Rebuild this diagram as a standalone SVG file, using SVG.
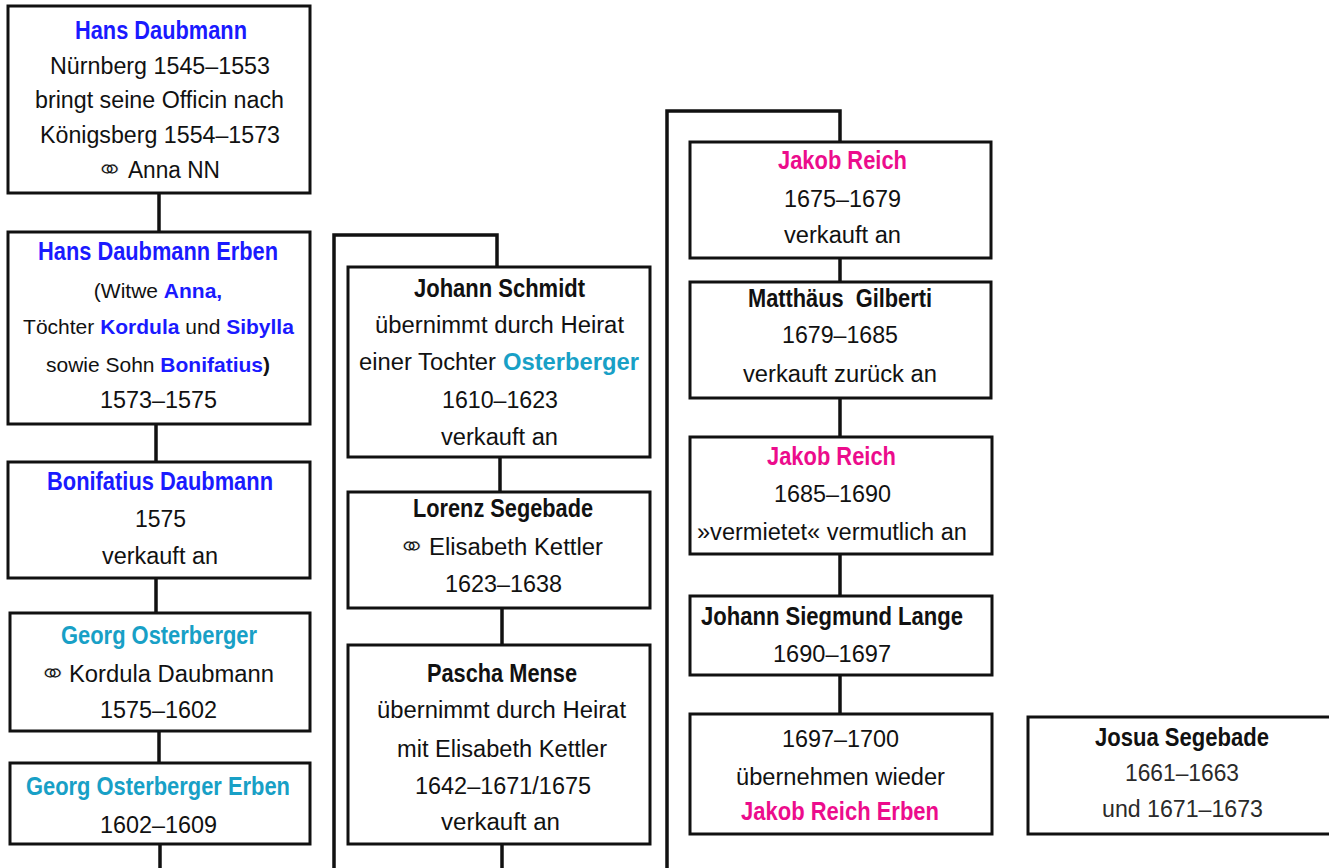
<svg xmlns="http://www.w3.org/2000/svg" width="1329" height="868" viewBox="0 0 1329 868">
<style>
.box{fill:#fff;stroke:#111;stroke-width:3}
.con{fill:none;stroke:#111;stroke-width:3.5}
text{font-family:"Liberation Sans",Arial,sans-serif;font-size:23px;fill:#111;text-anchor:middle;white-space:pre}
.nm{font-family:"Liberation Sans Narrow","Liberation Sans",Arial,sans-serif;font-weight:bold;font-size:25.5px}
.b{font-weight:bold}
.blue{fill:#1a1aff}
.teal{fill:#18a0c6}
.mag{fill:#ec0c8c}
.sm{font-size:21px}
.sym{font-family:"DejaVu Sans",sans-serif;font-size:28px;font-weight:200;stroke:#fff;stroke-width:0.7}
.st{text-anchor:start}
.lt{fill:#2a2a2a}
</style>
<defs>
<text id="marr" class="sym" x="0" y="0">⚭</text>
</defs>
<rect width="1329" height="868" fill="#fff"/>
<g id="connectors">
<path class="con" d="M159,193V232"/>
<path class="con" d="M156,424V462"/>
<path class="con" d="M156,578V613"/>
<path class="con" d="M159,731V763"/>
<path class="con" d="M160,844V868"/>
<path class="con" d="M334,868V235H497V267"/>
<path class="con" d="M500,457V492"/>
<path class="con" d="M502,608V645"/>
<path class="con" d="M502,844V868"/>
<path class="con" d="M667,868V111H840V142"/>
<path class="con" d="M840,258V282"/>
<path class="con" d="M840,398V437"/>
<path class="con" d="M840,554V596"/>
<path class="con" d="M840,675V714"/>
</g>
<g id="n1">
<rect class="box" x="8" y="6" width="302" height="187"/>
<text class="nm blue" x="161" y="39" textLength="172" lengthAdjust="spacingAndGlyphs">Hans Daubmann</text>
<text x="160" y="74" textLength="220" lengthAdjust="spacingAndGlyphs">Nürnberg 1545–1553</text>
<text x="159.5" y="108" textLength="249" lengthAdjust="spacingAndGlyphs">bringt seine Officin nach</text>
<text x="160" y="143" textLength="240" lengthAdjust="spacingAndGlyphs">Königsberg 1554–1573</text>
<use href="#marr" transform="translate(110,179) scale(1.25,1)"/>
<text class="st" x="128" y="178" textLength="92" lengthAdjust="spacingAndGlyphs">Anna NN</text>
</g>
<g id="n2">
<rect class="box" x="8" y="232" width="302" height="192"/>
<text class="nm blue" x="158" y="260" textLength="240" lengthAdjust="spacingAndGlyphs">Hans Daubmann Erben</text>
<text class="sm" x="158" y="298">(Witwe <tspan class="b blue">Anna,</tspan></text>
<text class="sm" x="158.5" y="334">Töchter <tspan class="b blue">Kordula</tspan> und <tspan class="b blue">Sibylla</tspan></text>
<text class="sm" x="158" y="372">sowie Sohn <tspan class="b blue">Bonifatius</tspan><tspan class="b">)</tspan></text>
<text x="158.5" y="408" textLength="117" lengthAdjust="spacingAndGlyphs">1573–1575</text>
</g>
<g id="n3">
<rect class="box" x="8" y="462" width="302" height="116"/>
<text class="nm blue" x="160" y="490" textLength="226" lengthAdjust="spacingAndGlyphs">Bonifatius Daubmann</text>
<text x="160.5" y="527" textLength="51" lengthAdjust="spacingAndGlyphs">1575</text>
<text x="160" y="564" textLength="116" lengthAdjust="spacingAndGlyphs">verkauft an</text>
</g>
<g id="n4">
<rect class="box" x="10" y="613" width="300" height="118"/>
<text class="nm teal" x="159" y="644" textLength="196" lengthAdjust="spacingAndGlyphs">Georg Osterberger</text>
<use href="#marr" transform="translate(53,683) scale(1.25,1)"/>
<text class="st" x="69" y="682" textLength="205" lengthAdjust="spacingAndGlyphs">Kordula Daubmann</text>
<text x="158.5" y="718" textLength="117" lengthAdjust="spacingAndGlyphs">1575–1602</text>
</g>
<g id="n5">
<rect class="box" x="10" y="763" width="300" height="81"/>
<text class="nm teal" x="158" y="795" textLength="264" lengthAdjust="spacingAndGlyphs">Georg Osterberger Erben</text>
<text x="158.5" y="833" textLength="117" lengthAdjust="spacingAndGlyphs">1602–1609</text>
</g>
<g id="n6">
<rect class="box" x="348" y="267" width="302" height="190"/>
<text class="nm" x="499.5" y="297" textLength="171" lengthAdjust="spacingAndGlyphs">Johann Schmidt</text>
<text x="499.5" y="333" textLength="249" lengthAdjust="spacingAndGlyphs">übernimmt durch Heirat</text>
<text class="st" x="359" y="370" font-size="22.5" textLength="137" lengthAdjust="spacingAndGlyphs">einer Tochter</text>
<text class="st b teal" x="503" y="370" font-size="22.5" textLength="136" lengthAdjust="spacingAndGlyphs">Osterberger</text>
<text x="500" y="408" textLength="116" lengthAdjust="spacingAndGlyphs">1610–1623</text>
<text x="499.5" y="445" textLength="117" lengthAdjust="spacingAndGlyphs">verkauft an</text>
</g>
<g id="n7">
<rect class="box" x="348" y="492" width="302" height="116"/>
<text class="nm" x="503" y="517" textLength="180" lengthAdjust="spacingAndGlyphs">Lorenz Segebade</text>
<use href="#marr" transform="translate(412,556) scale(1.25,1)"/>
<text class="st" x="429" y="555" textLength="174" lengthAdjust="spacingAndGlyphs">Elisabeth Kettler</text>
<text x="503.5" y="592" textLength="117" lengthAdjust="spacingAndGlyphs">1623–1638</text>
</g>
<g id="n8">
<rect class="box" x="348" y="645" width="302" height="199"/>
<text class="nm" x="502" y="682" textLength="150" lengthAdjust="spacingAndGlyphs">Pascha Mense</text>
<text x="501.5" y="718" textLength="249" lengthAdjust="spacingAndGlyphs">übernimmt durch Heirat</text>
<text x="502" y="757" textLength="210" lengthAdjust="spacingAndGlyphs">mit Elisabeth Kettler</text>
<text x="503" y="794" textLength="176" lengthAdjust="spacingAndGlyphs">1642–1671/1675</text>
<text x="500.5" y="830" textLength="119" lengthAdjust="spacingAndGlyphs">verkauft an</text>
</g>
<g id="n9">
<rect class="box" x="690" y="142" width="301" height="116"/>
<text class="nm mag" x="842.5" y="169" textLength="129" lengthAdjust="spacingAndGlyphs">Jakob Reich</text>
<text x="842.5" y="207" textLength="117" lengthAdjust="spacingAndGlyphs">1675–1679</text>
<text x="842.5" y="243" textLength="117" lengthAdjust="spacingAndGlyphs">verkauft an</text>
</g>
<g id="n10">
<rect class="box" x="690" y="282" width="301" height="116"/>
<text class="nm" x="840" y="307" textLength="184" lengthAdjust="spacingAndGlyphs">Matthäus  Gilberti</text>
<text x="840" y="343" textLength="116" lengthAdjust="spacingAndGlyphs">1679–1685</text>
<text x="840" y="382" textLength="194" lengthAdjust="spacingAndGlyphs">verkauft zurück an</text>
</g>
<g id="n11">
<rect class="box" x="690" y="437" width="302" height="117"/>
<text class="nm mag" x="831.5" y="465" textLength="129" lengthAdjust="spacingAndGlyphs">Jakob Reich</text>
<text x="832.5" y="502" textLength="117" lengthAdjust="spacingAndGlyphs">1685–1690</text>
<text x="832" y="540" textLength="270" lengthAdjust="spacingAndGlyphs">»vermietet« vermutlich an</text>
</g>
<g id="n12">
<rect class="box" x="690" y="596" width="302" height="79"/>
<text class="nm" x="832" y="625" textLength="262" lengthAdjust="spacingAndGlyphs">Johann Siegmund Lange</text>
<text x="832" y="662" textLength="118" lengthAdjust="spacingAndGlyphs">1690–1697</text>
</g>
<g id="n13">
<rect class="box" x="690" y="714" width="302" height="120"/>
<text x="840.5" y="747" textLength="117" lengthAdjust="spacingAndGlyphs">1697–1700</text>
<text x="840.5" y="785" textLength="209" lengthAdjust="spacingAndGlyphs">übernehmen wieder</text>
<text class="nm mag" x="840" y="820" textLength="198" lengthAdjust="spacingAndGlyphs">Jakob Reich Erben</text>
</g>
<g id="n14">
<rect class="box" x="1028" y="717" width="320" height="117"/>
<text class="nm" x="1182" y="746" textLength="174" lengthAdjust="spacingAndGlyphs">Josua Segebade</text>
<text class="lt" x="1182" y="781" textLength="114" lengthAdjust="spacingAndGlyphs">1661–1663</text>
<text class="lt" x="1182.5" y="817" textLength="161" lengthAdjust="spacingAndGlyphs">und 1671–1673</text>
</g>
</svg>
